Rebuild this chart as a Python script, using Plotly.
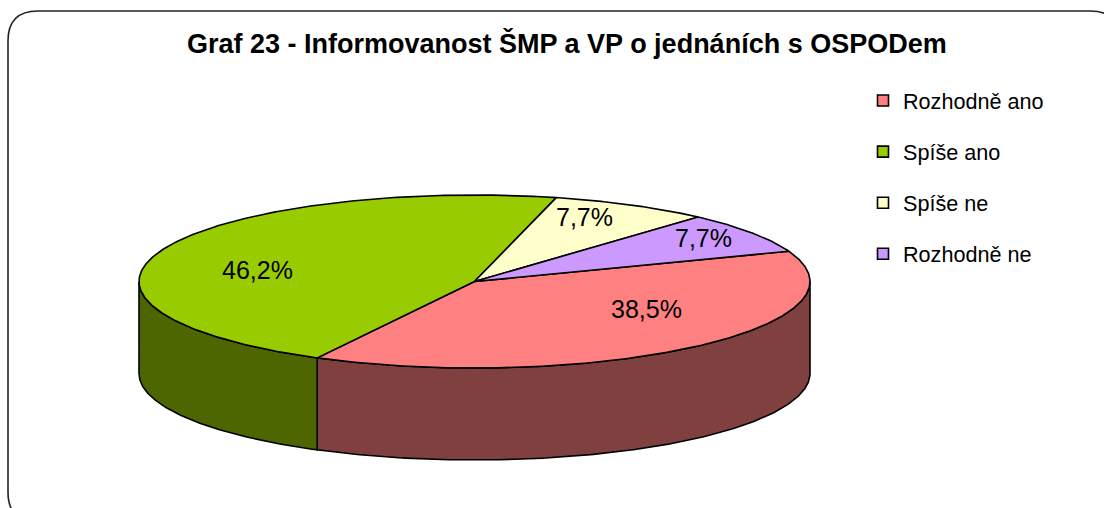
import math
import plotly.graph_objects as go

categories = ["Rozhodně ano", "Spíše ano", "Spíše ne", "Rozhodně ne"]
values = [38.5, 46.2, 7.7, 7.7]
labels = ["38,5%", "46,2%", "7,7%", "7,7%"]
top_colors = ["#FF8080", "#99CC00", "#FFFFCC", "#CC99FF"]
side_colors = ["#804040", "#4D6600", "#808066", "#664D80"]
title = "Graf 23 - Informovanost ŠMP a VP o jednáních s OSPODem"

CX, CY, RX, RY, DEPTH = 474.5, 281.5, 335.5, 86.5, 92
START = 69.5
LABEL_POS = [(646, 309), (257, 270), (584, 217), (703, 238)]

W, H = 1104, 508
total = sum(values)


def pt(a, dy=0.0):
    r = math.radians(a)
    return CX + RX * math.sin(r), CY - RY * math.cos(r) + dy


def arc(a0, a1, dy=0.0):
    n = max(2, int(abs(a1 - a0) * 2))
    return [pt(a0 + (a1 - a0) * i / n, dy) for i in range(n + 1)]


fig = go.Figure()

# slice angle spans, computed from the values
spans = []
a = START
for v in values:
    b = a + v / total * 360
    spans.append((a, b))
    a = b


def add_poly(points, fill, width=1.6):
    fig.add_trace(go.Scatter(
        x=[p[0] for p in points], y=[p[1] for p in points],
        mode="lines", fill="toself", fillcolor=fill,
        line=dict(color="#000000", width=width),
        hoverinfo="skip", showlegend=False,
    ))


# side walls: only the front half (90..270 degrees) is visible
for (a0, b0), col in zip(spans, side_colors):
    lo, hi = max(a0, 90), min(b0, 270)
    if hi > lo:
        add_poly(arc(lo, hi) + arc(hi, lo, DEPTH) + [pt(lo)], col)

# top faces
for (a0, b0), col in zip(spans, top_colors):
    add_poly([(CX, CY)] + arc(a0, b0) + [(CX, CY)], col)

# legend entries
for name, col in zip(categories, top_colors):
    fig.add_trace(go.Scatter(
        x=[None], y=[None], mode="markers", name=name, legendgroup=name,
        marker=dict(symbol="square", size=11, color=col,
                    line=dict(color="#000000", width=1.6)),
    ))

for (x, y), t in zip(LABEL_POS, labels):
    fig.add_annotation(x=x, y=y, text=t, showarrow=False, xref="x", yref="y",
                       font=dict(family="Liberation Sans", size=25, color="#000000"))

fig.add_annotation(x=567, y=43, text="<b>%s</b>" % title, showarrow=False,
                   xref="x", yref="y",
                   font=dict(family="Liberation Sans", size=27, color="#000000"))

L, T, R_, B, C = 8, 11, 1120, 522, 30
fig.add_shape(type="path", xref="x", yref="y",
              path=(f"M {L+C} {B} Q {L} {B} {L} {B-C} L {L} {T+C} Q {L} {T} {L+C} {T} "
                    f"L {R_-C} {T} Q {R_} {T} {R_} {T+C}"),
              line=dict(color="#222222", width=1.6), layer="below")

fig.update_layout(
    width=W, height=H,
    margin=dict(l=0, r=0, t=0, b=0),
    paper_bgcolor="#FFFFFF", plot_bgcolor="#FFFFFF",
    xaxis=dict(range=[0, W], visible=False, fixedrange=True),
    yaxis=dict(range=[H, 0], visible=False, fixedrange=True),
    showlegend=True,
    legend=dict(
        x=863 / W, y=1 - 80 / H, xanchor="left", yanchor="top",
        font=dict(family="Liberation Sans", size=21.6, color="#000000"),
        tracegroupgap=20, itemwidth=30, bgcolor="rgba(0,0,0,0)",
        traceorder="grouped",
    ),
)

fig.write_html("out.html", config={"displayModeBar": False},
               post_script="document.body.style.margin='0';document.body.style.overflow='hidden';")
